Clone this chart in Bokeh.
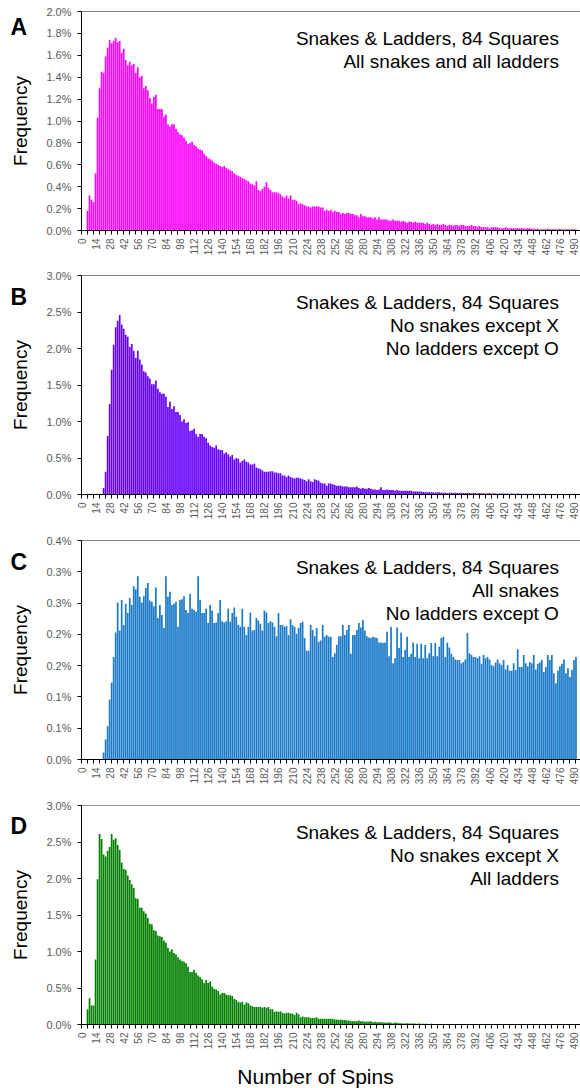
import math
from bokeh.plotting import figure
from bokeh.models import Range1d, FixedTicker, Label, Span, CustomJSTickFormatter
from bokeh.layouts import column, row
from bokeh.embed import file_html
from bokeh.resources import INLINE

# ---------------- data ----------------
spins = list(range(0, 494, 2))

freq_a = [
    0, 0, 0,
    0.18, 0.32, 0.28, 0.26, 0.52, 1.03, 1.30, 1.45,
    1.44, 1.59, 1.67, 1.74, 1.71, 1.73, 1.76, 1.72, 1.73, 1.62,
    1.66, 1.56, 1.51, 1.54, 1.51, 1.52, 1.44, 1.49, 1.40, 1.41,
    1.30, 1.32, 1.28, 1.21, 1.16, 1.22, 1.24, 1.11, 1.11, 1.11,
    1.04, 1.06, 0.97, 0.95, 0.97, 0.97, 0.93, 0.90, 0.88, 0.87,
    0.85, 0.82, 0.79, 0.80, 0.81, 0.78, 0.77, 0.75, 0.74, 0.73,
    0.70, 0.68, 0.66, 0.65, 0.64, 0.62, 0.61, 0.60, 0.59, 0.58,
    0.59, 0.57, 0.56, 0.55, 0.54, 0.52, 0.51, 0.50, 0.49, 0.48,
    0.47, 0.46, 0.45, 0.43, 0.42, 0.41, 0.45, 0.37, 0.36, 0.38,
    0.40, 0.44, 0.39, 0.37, 0.35, 0.35, 0.35, 0.34, 0.33, 0.31,
    0.30, 0.32, 0.29, 0.32, 0.28, 0.28, 0.27, 0.24, 0.25, 0.24,
    0.23, 0.22, 0.22, 0.21, 0.22, 0.22, 0.22, 0.22, 0.21, 0.21,
    0.18, 0.19, 0.18, 0.19, 0.17, 0.18, 0.17, 0.17, 0.15, 0.16,
    0.15, 0.16, 0.16, 0.15, 0.15, 0.14, 0.14, 0.12, 0.15, 0.13,
    0.13, 0.12, 0.12, 0.12, 0.11, 0.12, 0.10, 0.12, 0.10, 0.10,
    0.10, 0.10, 0.09, 0.09, 0.10, 0.09, 0.09, 0.09, 0.08, 0.09,
    0.08, 0.07, 0.08, 0.08, 0.07, 0.08, 0.07, 0.07, 0.07, 0.07,
    0.06, 0.07, 0.06, 0.05, 0.06, 0.05, 0.06, 0.05, 0.05, 0.06,
    0.05, 0.04, 0.05, 0.05, 0.04, 0.05, 0.05, 0.04, 0.05, 0.05,
    0.04, 0.04, 0.04, 0.05, 0.04, 0.04, 0.03, 0.04, 0.03, 0.03,
    0.03, 0.03, 0.02, 0.03, 0.03, 0.03, 0.03, 0.02, 0.02, 0.02,
    0.03, 0.02, 0.02, 0.02, 0.02, 0.02, 0.02, 0.02, 0.02, 0.02,
    0.015, 0.02, 0.02, 0.015, 0.015, 0.012, 0.015, 0.012, 0.01, 0.012,
    0.012, 0.015, 0.01, 0.012, 0.012, 0.01, 0.012, 0.015, 0.01, 0.012,
    0.01, 0.012, 0.01, 0.012, 0.01, 0.012,
]

freq_b = [
    0, 0, 0, 0, 0, 0, 0, 0, 0, 0, 0,
    0.09, 0.31, 0.80, 1.24, 1.71, 2.05, 2.29, 2.38, 2.46, 2.33,
    2.27, 2.19, 2.16, 2.02, 2.06, 1.97, 1.87, 1.97, 1.85, 1.78,
    1.69, 1.67, 1.62, 1.59, 1.51, 1.51, 1.56, 1.45, 1.40, 1.38,
    1.38, 1.34, 1.20, 1.27, 1.17, 1.21, 1.13, 1.13, 1.09, 1.00,
    1.03, 0.98, 0.99, 0.87, 0.88, 0.90, 0.83, 0.79, 0.83, 0.83,
    0.79, 0.77, 0.71, 0.67, 0.65, 0.64, 0.67, 0.62, 0.61, 0.61,
    0.56, 0.58, 0.55, 0.52, 0.54, 0.48, 0.50, 0.49, 0.44, 0.46,
    0.48, 0.45, 0.44, 0.41, 0.41, 0.42, 0.37, 0.36, 0.35, 0.33,
    0.31, 0.31, 0.31, 0.32, 0.32, 0.30, 0.30, 0.29, 0.29, 0.26,
    0.26, 0.24, 0.26, 0.24, 0.23, 0.22, 0.23, 0.23, 0.22, 0.21,
    0.20, 0.18, 0.21, 0.18, 0.17, 0.21, 0.20, 0.19, 0.16, 0.15,
    0.15, 0.12, 0.15, 0.15, 0.14, 0.13, 0.12, 0.12, 0.12, 0.11,
    0.11, 0.11, 0.10, 0.10, 0.10, 0.10, 0.11, 0.09, 0.08, 0.09,
    0.08, 0.08, 0.09, 0.08, 0.07, 0.07, 0.06, 0.07, 0.10, 0.06,
    0.06, 0.07, 0.06, 0.06, 0.06, 0.05, 0.06, 0.05, 0.05, 0.05,
    0.05, 0.05, 0.05, 0.05, 0.04, 0.04, 0.04, 0.04, 0.04, 0.035,
    0.03, 0.03, 0.035, 0.03, 0.03, 0.025, 0.03, 0.03, 0.025, 0.025,
    0.025, 0.02, 0.025, 0.025, 0.02, 0.025, 0.02, 0.02, 0.025, 0.02,
    0.02, 0.02, 0.02, 0.015, 0.02, 0.02, 0.015, 0.02, 0.015, 0.02,
    0.015, 0.015, 0.02, 0.015, 0.015, 0.015, 0.01, 0.015, 0.015, 0.015,
    0.01, 0.015, 0.01, 0.015, 0.01, 0.01, 0.015, 0.01, 0.01, 0.01,
    0.01, 0.01, 0.008, 0.01, 0.01, 0.008, 0.01, 0.008, 0.008, 0.01,
    0.008, 0.008, 0.006, 0.008, 0.008, 0.006, 0.008, 0.006, 0.006, 0.008,
    0.006, 0.006, 0.005, 0.006, 0.005, 0.006,
]

freq_c = [
    0, 0, 0, 0, 0, 0, 0, 0, 0, 0, 0,
    0.011, 0.032, 0.053, 0.096, 0.123, 0.164, 0.203, 0.251, 0.206, 0.255,
    0.215, 0.249, 0.234, 0.258, 0.247, 0.277, 0.272, 0.293, 0.260, 0.251,
    0.261, 0.274, 0.282, 0.254, 0.252, 0.245, 0.275, 0.226, 0.247, 0.231,
    0.210, 0.293, 0.260, 0.268, 0.247, 0.249, 0.252, 0.212, 0.255, 0.256,
    0.261, 0.239, 0.234, 0.265, 0.241, 0.239, 0.236, 0.293, 0.255, 0.234,
    0.234, 0.241, 0.218, 0.247, 0.238, 0.218, 0.219, 0.234, 0.255, 0.221,
    0.219, 0.221, 0.241, 0.220, 0.234, 0.243, 0.228, 0.215, 0.212, 0.241,
    0.212, 0.199, 0.212, 0.235, 0.206, 0.207, 0.226, 0.222, 0.217, 0.206,
    0.238, 0.235, 0.218, 0.221, 0.219, 0.212, 0.197, 0.234, 0.215, 0.215,
    0.212, 0.213, 0.199,
    0.224, 0.215, 0.212, 0.201, 0.210, 0.218, 0.220, 0.194, 0.174, 0.174,
    0.215, 0.207, 0.197, 0.210, 0.188, 0.190, 0.215, 0.196, 0.199, 0.196,
    0.196, 0.164, 0.170, 0.183, 0.197, 0.197, 0.215, 0.199, 0.207, 0.215,
    0.169, 0.199, 0.199, 0.207, 0.218, 0.211, 0.223, 0.206, 0.197, 0.195,
    0.194, 0.196, 0.195, 0.194, 0.187, 0.187, 0.186, 0.187, 0.204, 0.165,
    0.212, 0.154, 0.162, 0.211, 0.178, 0.203, 0.164, 0.175, 0.196, 0.164,
    0.169, 0.187, 0.164, 0.185, 0.162, 0.185, 0.162, 0.183, 0.162, 0.170,
    0.186, 0.165, 0.186, 0.165, 0.180, 0.194, 0.196, 0.164, 0.187, 0.179,
    0.169, 0.164, 0.160, 0.159, 0.159, 0.154, 0.156, 0.160, 0.202, 0.170,
    0.167, 0.164, 0.164, 0.162, 0.165, 0.153, 0.167, 0.162, 0.164, 0.160,
    0.151, 0.149, 0.155, 0.160, 0.154, 0.151, 0.159, 0.144, 0.151, 0.142,
    0.142, 0.154, 0.143, 0.176, 0.148, 0.148, 0.167, 0.154, 0.149, 0.156,
    0.154, 0.167, 0.144, 0.153, 0.155, 0.159, 0.140, 0.148, 0.167, 0.159,
    0.167, 0.138, 0.122, 0.142, 0.149, 0.153, 0.160, 0.138, 0.146, 0.132,
    0.143, 0.159, 0.164,
]

freq_d = [
    0, 0, 0,
    0.21, 0.36, 0.26, 0.26, 0.89, 1.99, 2.61, 2.54, 2.33, 2.30,
    2.38, 2.43, 2.61, 2.53, 2.55, 2.46, 2.39, 2.22, 2.13, 2.12,
    2.04, 1.98, 1.92, 1.87, 1.73, 1.72, 1.60, 1.60, 1.55, 1.52,
    1.46, 1.38, 1.37, 1.29, 1.28, 1.22, 1.21, 1.20, 1.15, 1.12,
    1.05, 1.00, 1.03, 0.98, 0.96, 0.92, 0.89, 0.87, 0.86, 0.84,
    0.79, 0.72, 0.72, 0.75, 0.71, 0.67, 0.65, 0.62, 0.57, 0.61,
    0.57, 0.59, 0.52, 0.49, 0.48, 0.46, 0.41, 0.43, 0.43, 0.41,
    0.40, 0.40, 0.39, 0.35, 0.34, 0.31, 0.30, 0.31, 0.27, 0.30,
    0.29, 0.26, 0.25, 0.24, 0.24, 0.24, 0.24, 0.23, 0.24, 0.23,
    0.24, 0.21, 0.21, 0.17, 0.18, 0.17, 0.18, 0.16, 0.15, 0.16,
    0.16, 0.15, 0.15, 0.13, 0.16, 0.14, 0.10,
    0.11, 0.10, 0.10, 0.10, 0.09, 0.09, 0.09, 0.10, 0.08, 0.08,
    0.08, 0.08, 0.08, 0.08, 0.08, 0.08, 0.07, 0.07, 0.06, 0.07,
    0.06, 0.06, 0.055, 0.055, 0.045, 0.045, 0.045, 0.045, 0.055, 0.045,
    0.045, 0.036, 0.04, 0.04, 0.045, 0.03, 0.036, 0.03, 0.03, 0.03,
    0.027, 0.027, 0.023, 0.03, 0.023, 0.018, 0.027, 0.023, 0.018, 0.018,
    0.014, 0.014, 0.016, 0.014, 0.012, 0.014, 0.012, 0.010, 0.012, 0.010,
    0.009, 0.010, 0.009, 0.008, 0.009, 0.008, 0.007, 0.008, 0.007, 0.006,
    0.006, 0.007, 0.006, 0.005, 0.006, 0.005, 0.005, 0.004, 0.005, 0.004,
    0.004, 0.004, 0.003, 0.004, 0.003, 0.003, 0.004, 0.003, 0.003, 0.003,
    0.003, 0.002, 0.003, 0.002, 0.002, 0.003, 0.002, 0.002, 0.002, 0.002,
    0.002, 0.002, 0.001, 0.002, 0.002, 0.001, 0.002, 0.001, 0.001, 0.002,
    0.001, 0.001, 0.001, 0.002, 0.001, 0.001, 0.001, 0.001, 0.001, 0.001,
    0.001, 0.001, 0.001, 0.001, 0.001, 0.001, 0.001, 0.001, 0.001, 0.001,
    0.001, 0.001, 0.001, 0.001, 0.001, 0.001, 0.001,
]

x_label_ticks = list(range(0, 491, 14))
x_mark_ticks = list(range(0, 497, 6))

y_ticks_a = [0.0, 0.2, 0.4, 0.6, 0.8, 1.0, 1.2, 1.4, 1.6, 1.8, 2.0]
y_labels_a = ["0.0%", "0.2%", "0.4%", "0.6%", "0.8%", "1.0%", "1.2%", "1.4%", "1.6%", "1.8%", "2.0%"]
y_ticks_b = [0.0, 0.5, 1.0, 1.5, 2.0, 2.5, 3.0]
y_labels_b = ["0.0%", "0.5%", "1.0%", "1.5%", "2.0%", "2.5%", "3.0%"]
y_ticks_c = [0.0, 0.05, 0.10, 0.15, 0.20, 0.25, 0.30, 0.35]
y_labels_c = ["0.0%", "0.1%", "0.1%", "0.2%", "0.2%", "0.3%", "0.3%", "0.4%"]
y_ticks_d = [0.0, 0.5, 1.0, 1.5, 2.0, 2.5, 3.0]
y_labels_d = ["0.0%", "0.5%", "1.0%", "1.5%", "2.0%", "2.5%", "3.0%"]

text_a = ["Snakes & Ladders, 84 Squares", "All snakes and all ladders"]
text_b = ["Snakes & Ladders, 84 Squares", "No snakes except X", "No ladders except O"]
text_c = ["Snakes & Ladders, 84 Squares", "All snakes", "No ladders except O"]
text_d = ["Snakes & Ladders, 84 Squares", "No snakes except X", "All ladders"]
x_title = "Number of Spins"

# ---------------- layout ----------------
FONT = "Liberation Sans"
PAGE_W = 580
SIDE_W = 43          # narrow figure holding the panel letter and the y title
MAIN_W = PAGE_W - SIDE_W
LEFT = 36            # main figure left border (frame starts at page x 79)
TOP = 11
FRAME_H = 219
X_MAX = 496.5
PX = (MAIN_W - LEFT) / X_MAX
FRAME_LEFT = SIDE_W + LEFT
BOTTOM_H = 36        # strip holding the x title
BOTTOM_TOP = 11
BASE_SHIFT = 0.36    # rendered alphabetic baseline sits this many em lower; compensate


def hide_axes(fig):
    for ax in fig.axis:
        ax.visible = False
        ax.major_tick_out = 0
        ax.major_tick_in = 0
        ax.minor_tick_out = 0
        ax.minor_tick_in = 0
        ax.major_label_standoff = 0
        ax.major_label_text_font_size = "0px"
        ax.axis_line_color = None
        ax.major_tick_line_color = None
        ax.minor_tick_line_color = None


panels = [
    dict(letter="A", vals=freq_a, color="#FF00FF", ymax=2.0, ticks=y_ticks_a, labels=y_labels_a,
         text=text_a, letter_base=35, h=264, line_color="#000000"),
    dict(letter="B", vals=freq_b, color="#6600FF", ymax=3.0, ticks=y_ticks_b, labels=y_labels_b,
         text=text_b, letter_base=41, h=265, line_color="#000000"),
    dict(letter="C", vals=freq_c, color="#1A7AC8", ymax=0.35, ticks=y_ticks_c, labels=y_labels_c,
         text=text_c, letter_base=41, h=265, line_color="#000000"),
    dict(letter="D", vals=freq_d, color="#008000", ymax=3.0, ticks=y_ticks_d, labels=y_labels_d,
         text=text_d, letter_base=39.5, h=258, line_color="#333333"),
]

rows = []
for i, pan in enumerate(panels):
    h = pan["h"]
    ymax = pan["ymax"]
    bottom = h - TOP - FRAME_H

    # side figure: same vertical borders as the chart, y measured in frame pixels
    s = figure(width=SIDE_W, height=h, x_range=Range1d(0, SIDE_W), y_range=Range1d(0, FRAME_H),
               output_backend="svg", toolbar_location=None, title=None,
               min_border_left=0, min_border_right=0, min_border_top=TOP, min_border_bottom=bottom)
    hide_axes(s)
    s.outline_line_color = None
    s.xgrid.visible = False
    s.ygrid.visible = False
    s.text(x=[27 - BASE_SHIFT * 19], y=[FRAME_H / 2], text=["Frequency"], angle=math.pi / 2,
           text_font={"value": FONT}, text_font_size="19px", text_font_style="normal",
           text_align="center", text_baseline="alphabetic", text_color="black")
    s.text(x=[10], y=[FRAME_H - (pan["letter_base"] - BASE_SHIFT * 23 - TOP)], text=[pan["letter"]],
           text_font={"value": FONT}, text_font_size="23px", text_font_style="bold",
           text_align="left", text_baseline="alphabetic", text_color="black")

    p = figure(width=MAIN_W, height=h, x_range=Range1d(0, X_MAX), y_range=Range1d(0, ymax),
               output_backend="svg", toolbar_location=None, title=None,
               min_border_left=LEFT, min_border_right=0, min_border_top=TOP,
               min_border_bottom=bottom)
    p.outline_line_color = None
    p.xgrid.visible = False
    p.ygrid.visible = False

    p.vbar(x=spins, top=pan["vals"], width=1.7, bottom=0, fill_color=pan["color"],
           line_color=None)

    p.add_layout(Span(location=ymax, dimension="width", line_color=pan["line_color"], line_width=1))

    # x axis
    xa = p.xaxis[0]
    xa.ticker = FixedTicker(ticks=x_label_ticks, minor_ticks=x_mark_ticks)
    xa.axis_line_color = "black"
    xa.major_tick_line_color = None
    xa.major_tick_out = 3
    xa.major_tick_in = 0
    xa.minor_tick_line_color = "black"
    xa.minor_tick_out = 4
    xa.minor_tick_in = 0
    xa.major_label_orientation = math.pi / 2
    xa.major_label_text_font = FONT
    xa.major_label_text_font_size = "10px"
    xa.major_label_text_color = "#5a5a5a"
    xa.major_label_standoff = 4

    # y axis
    ya = p.yaxis[0]
    ya.ticker = FixedTicker(ticks=pan["ticks"])
    ya.formatter = CustomJSTickFormatter(args=dict(labels=pan["labels"]), code="return labels[index];")
    ya.axis_line_color = "black"
    ya.major_tick_line_color = "black"
    ya.major_tick_out = 4
    ya.major_tick_in = 0
    ya.minor_tick_line_color = None
    ya.major_label_text_font = FONT
    ya.major_label_text_font_size = "11px"
    ya.major_label_text_color = "#5a5a5a"
    ya.major_label_standoff = 6

    # description text (inside the frame)
    for k, line in enumerate(pan["text"]):
        dy = 34.3 + 23 * k - BASE_SHIFT * 19
        p.add_layout(Label(x=(558.3 - FRAME_LEFT) / PX, y=ymax * (1 - dy / FRAME_H),
                           text=line, text_font=FONT, text_font_size="19px", text_align="right",
                           text_baseline="alphabetic", text_color="black"))
    rows.append(row(s, p, spacing=0))

# bottom strip with the x-axis title
strip_frame = BOTTOM_H - BOTTOM_TOP
b = figure(width=PAGE_W, height=BOTTOM_H, x_range=Range1d(0, PAGE_W), y_range=Range1d(0, strip_frame),
           output_backend="svg", toolbar_location=None, title=None,
           min_border_left=0, min_border_right=0, min_border_top=BOTTOM_TOP, min_border_bottom=0)
hide_axes(b)
b.outline_line_color = None
b.xgrid.visible = False
b.ygrid.visible = False
b.text(x=[315], y=[4.7 + BASE_SHIFT * 21], text=[x_title], text_font={"value": FONT}, text_font_size="21px",
       text_font_style="normal", text_align="center", text_baseline="alphabetic", text_color="black")
rows.append(b)

layout = column(*rows, spacing=0)
open("out.html", "w").write(file_html(layout, INLINE))
